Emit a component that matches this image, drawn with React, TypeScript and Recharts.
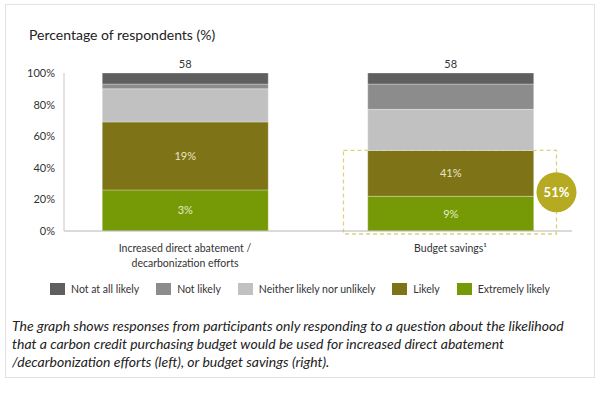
import { BarChart, Bar, XAxis, YAxis, LabelList, ReferenceArea } from 'recharts';

const categories = ['Increased direct abatement /\ndecarbonization efforts', 'Budget savings\u00b9'];
const respondents = [58, 58];
const extremelyLikely = [26, 22];
const likely = [43, 29];
const neither = [21, 26];
const notLikely = [3, 16];
const notAtAllLikely = [7, 7];
const likelyLabels = ['19%', '41%'];
const extremelyLabels = ['3%', '9%'];
const yTicks = [0, 20, 40, 60, 80, 100];
const highlightIndex = 1;

const FONT = 'Lato, "Noto Sans", sans-serif';
const BAR = 166;

const series = [
    { key: 'notAtAll', name: 'Not at all likely', color: '#5f5f5f', values: notAtAllLikely },
    { key: 'notLikely', name: 'Not likely', color: '#8c8c8c', values: notLikely },
    { key: 'neither', name: 'Neither likely nor unlikely', color: '#c1c1c1', values: neither },
    { key: 'likely', name: 'Likely', color: '#7e7317', values: likely },
    { key: 'extremely', name: 'Extremely likely', color: '#769a05', values: extremelyLikely },
];

const data = categories.map((name, i) => ({
    pos: i + 1,
    name,
    n: respondents[i],
    likelyLabel: likelyLabels[i],
    extremelyLabel: extremelyLabels[i],
    extremely: extremelyLikely[i],
    likely: likely[i],
    neither: neither[i],
    notLikely: notLikely[i],
    notAtAll: notAtAllLikely[i],
}));

const highlightTotal = likely[highlightIndex] + extremelyLikely[highlightIndex];

const CategoryTick = ({ x, y, payload }: any) => {
    const lines = categories[payload.value - 1].split('\n');
    return (
        <text x={x} y={y} textAnchor="middle" fontSize={10.5} fill="#333" fontFamily={FONT}>
            {lines.map((line, i) => (
                <tspan key={i} x={x} y={y + 13 + i * 15}>{line}</tspan>
            ))}
        </text>
    );
};

// dashed frame round the likely + extremely likely part, with the total badge
const HighlightShape = (props: any) => {
    const { x, y, height } = props;
    const left = x - BAR / 2 - 24;
    const right = x + BAR / 2 + 23;
    const top = y;
    const bottom = y + height + 3;
    const cy = (top + bottom) / 2;
    return (
        <g>
            <rect x={left} y={top} width={right - left} height={bottom - top} fill="none"
                stroke="#d9d37c" strokeWidth={1.3} strokeDasharray="4 3" />
            <circle cx={right} cy={cy} r={20} fill="#b5aa22" />
            <text x={right} y={cy} dy="0.35em" textAnchor="middle" fill="#fff" fontSize={13}
                fontWeight="bold" fontFamily={FONT}>{highlightTotal}%</text>
        </g>
    );
};

export default function App() {
    const stackOrder = [...series].reverse();
    return (
        <div style={{ position: 'absolute', left: 0, top: 0, width: 600, height: 395, background: '#fff', fontFamily: FONT }}>
            <div style={{ position: 'absolute', left: 5, top: 4, width: 588, height: 372, border: '1px solid #e2e2e2' }} />
            <div style={{ position: 'absolute', left: 29, top: 26, fontSize: 14, color: '#222', whiteSpace: 'nowrap' }}>
                Percentage of respondents (%)
            </div>
            <div style={{ position: 'absolute', left: 0, top: 0 }}>
                <BarChart width={600} height={270} data={data} margin={{ top: 73, right: 28, bottom: 0, left: 0 }}>
                    <XAxis
                        type="number"
                        dataKey="pos"
                        domain={[0.5443, 2.4577]}
                        ticks={[1, 2]}
                        tick={<CategoryTick />}
                        tickLine={false}
                        stroke="#b5b5b5"
                        height={39}
                        allowDataOverflow
                    />
                    <YAxis
                        domain={[0, 100]}
                        ticks={yTicks}
                        tickFormatter={(v) => `${v}%`}
                        tickLine={false}
                        tickMargin={3}
                        stroke="#c8c8c8"
                        tick={{ fill: '#333', fontSize: 11, fontFamily: FONT }}
                        width={64}
                    />
                    {stackOrder.map((s) => (
                        <Bar key={s.key} dataKey={s.key} stackId="a" fill={s.color} barSize={BAR}
                            stroke="#ffffff" strokeOpacity={0.5} strokeWidth={0.6} isAnimationActive={false}>
                            {s.key === 'likely' && (
                                <LabelList dataKey="likelyLabel" position="center" fill="#e9e5c6" fontSize={11} fontFamily={FONT} />
                            )}
                            {s.key === 'extremely' && (
                                <LabelList dataKey="extremelyLabel" position="center" fill="#e2ecc4" fontSize={11} fontFamily={FONT} />
                            )}
                            {s.key === 'notAtAll' && (
                                <LabelList dataKey="n" position="top" fill="#333" fontSize={11} fontFamily={FONT} />
                            )}
                        </Bar>
                    ))}
                    <ReferenceArea x1={highlightIndex + 1} x2={highlightIndex + 1} y1={0} y2={highlightTotal}
                        shape={<HighlightShape />} />
                </BarChart>
            </div>
            <div style={{ position: 'absolute', left: 0, top: 283, width: 600, display: 'flex', justifyContent: 'center', gap: 17, fontSize: 10.5, color: '#333' }}>
                {series.map((s) => (
                    <div key={s.key} style={{ display: 'flex', alignItems: 'center', whiteSpace: 'nowrap' }}>
                        <span style={{ display: 'inline-block', width: 15, height: 12, background: s.color, marginRight: 6 }} />
                        {s.name}
                    </div>
                ))}
            </div>
            <div style={{ position: 'absolute', left: 12, top: 317, fontSize: 14, lineHeight: '18px', fontStyle: 'italic', color: '#222', whiteSpace: 'nowrap' }}>
                The graph shows responses from participants only responding to a question about the likelihood<br />
                that a carbon credit purchasing budget would be used for increased direct abatement<br />
                /decarbonization efforts (left), or budget savings (right).
            </div>
        </div>
    );
}
